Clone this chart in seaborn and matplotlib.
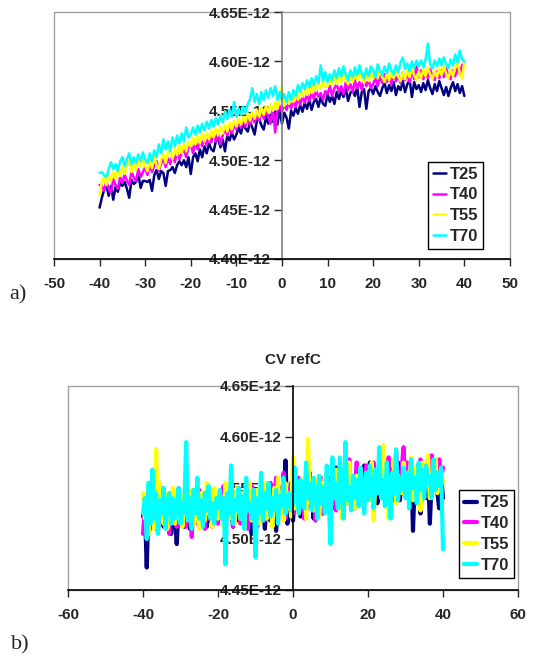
import numpy as np
import pandas as pd
import seaborn as sns
import matplotlib.pyplot as plt
from matplotlib.patches import Rectangle

# x grid of the measurements (V), same for every curve
x_pts = np.arange(-40, 40.5, 0.5)

names = ['T25', 'T40', 'T55', 'T70']
colors = ['#000080', '#FF00FF', '#FFFF00', '#00FFFF']

# axis ticks
a_xticks = [-50, -40, -30, -20, -10, 0, 10, 20, 30, 40, 50]
a_yticks = [4.40, 4.45, 4.50, 4.55, 4.60, 4.65]
b_xticks = [-60, -40, -20, 0, 20, 40, 60]
b_yticks = [4.45, 4.50, 4.55, 4.60, 4.65]

# values, in 1e-15 units
# a) capacitance
a_T25 = [4452, 4462, 4470, 4475, 4464, 4474, 4460, 4473, 4468, 4477, 4474, 4478, 4471, 4462, 4480, 4476, 4478, 4486, 4472, 4479,
         4479, 4478, 4480, 4469, 4485, 4490, 4481, 4489, 4487, 4474, 4489, 4490, 4493, 4487, 4495, 4499, 4495, 4500, 4493, 4503,
         4486, 4503, 4507, 4499, 4511, 4503, 4514, 4507, 4517, 4511, 4509, 4519, 4522, 4513, 4521, 4509, 4525, 4520, 4528, 4521,
         4526, 4533, 4527, 4537, 4532, 4529, 4539, 4533, 4526, 4540, 4542, 4535, 4531, 4544, 4537, 4546, 4539, 4549, 4536, 4551,
         4537, 4548, 4543, 4532, 4550, 4545, 4553, 4547, 4556, 4549, 4558, 4552, 4561, 4551, 4559, 4562, 4554, 4564, 4557, 4555,
         4567, 4559, 4565, 4557, 4569, 4562, 4570, 4564, 4573, 4560, 4568, 4571, 4565, 4574, 4554, 4569, 4572, 4552, 4570, 4573,
         4567, 4575, 4569, 4565, 4573, 4578, 4568, 4576, 4570, 4579, 4566, 4575, 4571, 4580, 4569, 4577, 4581, 4564, 4579, 4572,
         4576, 4569, 4578, 4571, 4581, 4573, 4567, 4577, 4570, 4580, 4573, 4566, 4574, 4565, 4573, 4579, 4570, 4577, 4568, 4575,
         4565]
a_T40 = [4475, 4474, 4469, 4479, 4471, 4467, 4481, 4475, 4471, 4483, 4477, 4486, 4479, 4475, 4489, 4482, 4479, 4491, 4483, 4488,
         4493, 4485, 4496, 4488, 4494, 4499, 4489, 4497, 4501, 4493, 4502, 4496, 4506, 4498, 4509, 4501, 4507, 4511, 4503, 4513,
         4516, 4507, 4519, 4511, 4521, 4514, 4523, 4515, 4525, 4518, 4527, 4519, 4529, 4516, 4525, 4532, 4525, 4534, 4527, 4536,
         4531, 4539, 4533, 4541, 4534, 4543, 4536, 4545, 4538, 4547, 4540, 4549, 4542, 4551, 4544, 4537, 4553, 4528, 4549, 4555,
         4549, 4557, 4551, 4559, 4552, 4561, 4554, 4563, 4556, 4565, 4558, 4567, 4560, 4569, 4562, 4571, 4564, 4568, 4561, 4570,
         4567, 4575, 4565, 4573, 4577, 4569, 4575, 4567, 4579, 4571, 4577, 4569, 4581, 4573, 4579, 4571, 4583, 4575, 4581, 4573,
         4577, 4584, 4575, 4585, 4578, 4587, 4579, 4585, 4577, 4588, 4580, 4586, 4578, 4589, 4581, 4587, 4579, 4590, 4582, 4595,
         4584, 4591, 4582, 4589, 4583, 4592, 4585, 4581, 4590, 4583, 4591, 4584, 4593, 4586, 4582, 4591, 4585, 4593, 4587, 4596,
         4598]
a_T55 = [4465, 4478, 4483, 4475, 4485, 4479, 4488, 4481, 4491, 4484, 4493, 4486, 4495, 4501, 4488, 4497, 4490, 4499, 4493, 4501,
         4494, 4489, 4499, 4492, 4503, 4495, 4491, 4501, 4506, 4497, 4508, 4511, 4501, 4513, 4505, 4515, 4507, 4517, 4509, 4519,
         4514, 4523, 4516, 4525, 4517, 4527, 4519, 4528, 4521, 4530, 4523, 4532, 4525, 4534, 4527, 4536, 4529, 4538, 4531, 4540,
         4534, 4542, 4536, 4544, 4538, 4547, 4540, 4549, 4542, 4551, 4544, 4553, 4546, 4555, 4548, 4557, 4550, 4559, 4552, 4561,
         4575, 4555, 4563, 4557, 4566, 4559, 4568, 4561, 4571, 4564, 4573, 4566, 4575, 4568, 4577, 4570, 4579, 4572, 4581, 4574,
         4575, 4583, 4576, 4585, 4577, 4587, 4579, 4591, 4581, 4577, 4586, 4579, 4588, 4581, 4590, 4583, 4578, 4587, 4580, 4589,
         4582, 4590, 4583, 4591, 4584, 4579, 4588, 4581, 4590, 4583, 4592, 4585, 4580, 4589, 4582, 4591, 4584, 4593, 4586, 4581,
         4590, 4583, 4592, 4585, 4594, 4587, 4582, 4591, 4584, 4593, 4586, 4595, 4588, 4583, 4592, 4585, 4594, 4601, 4587, 4583,
         4600]
a_T70 = [4487, 4488, 4485, 4483, 4491, 4498, 4491, 4496, 4489, 4499, 4503, 4494, 4501, 4507, 4496, 4503, 4497, 4506, 4499, 4508,
         4501, 4497, 4507, 4499, 4510, 4503, 4516, 4507, 4521, 4511, 4519, 4509, 4523, 4514, 4525, 4517, 4527, 4519, 4533, 4523,
         4526, 4533, 4526, 4535, 4528, 4537, 4530, 4539, 4532, 4541, 4534, 4543, 4536, 4545, 4538, 4549, 4542, 4551, 4544, 4559,
         4544, 4552, 4546, 4554, 4548, 4557, 4562, 4573, 4559, 4567, 4557, 4569, 4561, 4571, 4563, 4573, 4565, 4575, 4561, 4569,
         4561, 4567, 4559, 4569, 4561, 4571, 4565, 4576, 4569, 4578, 4572, 4581, 4574, 4583, 4576, 4585, 4578, 4596, 4580, 4589,
         4579, 4587, 4581, 4591, 4583, 4593, 4585, 4595, 4587, 4581, 4591, 4584, 4594, 4586, 4596, 4588, 4583, 4593, 4585, 4595,
         4591, 4584, 4597, 4590, 4586, 4595, 4588, 4598, 4591, 4587, 4596, 4589, 4599, 4604, 4592, 4598, 4590, 4600, 4593, 4601,
         4595, 4601, 4594, 4602, 4618, 4597, 4593, 4601, 4595, 4603, 4596, 4604, 4597, 4593, 4602, 4596, 4607, 4599, 4611, 4602,
         4600]

# b) CV refC
b_T25 = [4522, 4530, 4472, 4540, 4515, 4528, 4545, 4510, 4535, 4520, 4548, 4512, 4530, 4518, 4540, 4505, 4528, 4522, 4495, 4532,
         4520, 4540, 4512, 4535, 4525, 4510, 4542, 4518, 4530, 4550, 4515, 4528, 4520, 4545, 4512, 4535, 4522, 4514, 4540, 4526,
         4518, 4537, 4525, 4545, 4515, 4532, 4522, 4540, 4512, 4535, 4528, 4518, 4542, 4525, 4533, 4512, 4538, 4520, 4505, 4540,
         4528, 4515, 4545, 4522, 4535, 4510, 4540, 4528, 4518, 4548, 4525, 4508, 4538, 4530, 4550, 4520, 4577, 4515, 4540, 4525,
         4518, 4545, 4530, 4555, 4522, 4540, 4548, 4528, 4555, 4535, 4545, 4520, 4550, 4532, 4558, 4540, 4525, 4552, 4538, 4545,
         4560, 4530, 4548, 4570, 4540, 4555, 4528, 4562, 4545, 4535, 4565, 4542, 4553, 4530, 4568, 4545, 4558, 4538, 4572, 4548,
         4540, 4575, 4550, 4545, 4565, 4535, 4558, 4548, 4570, 4540, 4562, 4550, 4532, 4568, 4555, 4545, 4575, 4538, 4560, 4550,
         4565, 4545, 4555, 4570, 4508, 4560, 4548, 4572, 4525, 4558, 4565, 4540, 4570, 4515, 4560, 4550, 4575, 4545, 4530, 4562,
         4540]
b_T40 = [4505, 4530, 4520, 4545, 4510, 4535, 4518, 4540, 4508, 4532, 4550, 4515, 4538, 4522, 4505, 4545, 4525, 4530, 4512, 4550,
         4520, 4535, 4545, 4512, 4528, 4538, 4502, 4540, 4525, 4515, 4548, 4522, 4535, 4510, 4545, 4520, 4530, 4512, 4540, 4526,
         4515, 4540, 4525, 4552, 4518, 4535, 4522, 4545, 4512, 4538, 4528, 4550, 4515, 4535, 4525, 4542, 4510, 4538, 4552, 4520,
         4535, 4512, 4545, 4528, 4550, 4518, 4540, 4525, 4555, 4515, 4538, 4560, 4522, 4545, 4530, 4565, 4520, 4548, 4535, 4555,
         4525, 4550, 4535, 4560, 4528, 4545, 4520, 4555, 4538, 4565, 4530, 4548, 4518, 4558, 4540, 4525, 4560, 4535, 4550, 4545,
         4535, 4562, 4548, 4528, 4565, 4540, 4555, 4532, 4570, 4545, 4578, 4538, 4560, 4548, 4575, 4535, 4565, 4550, 4540, 4572,
         4548, 4565, 4538, 4575, 4555, 4545, 4570, 4540, 4562, 4552, 4545, 4580, 4550, 4560, 4538, 4585, 4555, 4548, 4570, 4590,
         4545, 4575, 4558, 4540, 4570, 4552, 4565, 4535, 4578, 4555, 4548, 4572, 4560, 4540, 4582, 4555, 4565, 4548, 4578, 4560,
         4570]
b_T55 = [4545, 4520, 4538, 4505, 4550, 4525, 4510, 4588, 4520, 4555, 4530, 4515, 4545, 4510, 4540, 4525, 4550, 4515, 4535, 4520,
         4545, 4512, 4538, 4555, 4520, 4530, 4548, 4515, 4540, 4525, 4510, 4545, 4530, 4518, 4555, 4525, 4540, 4512, 4550, 4528,
         4520, 4545, 4530, 4512, 4555, 4535, 4520, 4565, 4528, 4515, 4550, 4535, 4520, 4545, 4510, 4540, 4528, 4555, 4518, 4535,
         4525, 4548, 4515, 4540, 4530, 4555, 4520, 4545, 4535, 4512, 4550, 4528, 4560, 4525, 4545, 4518, 4555, 4530, 4540, 4522,
         4580, 4530, 4552, 4525, 4545, 4535, 4560, 4520, 4598, 4535, 4550, 4528, 4558, 4540, 4522, 4555, 4535, 4562, 4530, 4548,
         4525, 4555, 4540, 4568, 4530, 4550, 4520, 4560, 4545, 4535, 4575, 4540, 4555, 4530, 4562, 4545, 4570, 4538, 4555, 4548,
         4565, 4538, 4575, 4518, 4560, 4545, 4570, 4550, 4592, 4540, 4565, 4520, 4560, 4548, 4578, 4535, 4562, 4550, 4545, 4575,
         4540, 4565, 4555, 4580, 4538, 4570, 4545, 4560, 4528, 4575, 4550, 4565, 4582, 4540, 4562, 4555, 4578, 4545, 4560, 4568,
         4555]
b_T70 = [4525, 4540, 4500, 4555, 4515, 4568, 4520, 4545, 4505, 4538, 4525, 4550, 4510, 4535, 4545, 4515, 4540, 4520, 4530, 4550,
         4515, 4535, 4525, 4595, 4518, 4540, 4510, 4548, 4525, 4560, 4520, 4538, 4512, 4545, 4528, 4552, 4520, 4535, 4515, 4540,
         4530, 4548, 4520, 4540, 4475, 4545, 4525, 4572, 4515, 4538, 4528, 4550, 4520, 4542, 4510, 4560, 4528, 4535, 4520, 4548,
         4482, 4540, 4525, 4565, 4518, 4545, 4530, 4555, 4522, 4540, 4528, 4548, 4515, 4542, 4532, 4560, 4525, 4538, 4545, 4528,
         4535, 4570, 4548, 4525, 4558, 4540, 4530, 4575, 4540, 4555, 4528, 4560, 4545, 4520, 4562, 4535, 4550, 4525, 4572, 4540,
         4495, 4580, 4540, 4555, 4530, 4580, 4545, 4520, 4595, 4538, 4550, 4528, 4562, 4540, 4558, 4532, 4570, 4545, 4525, 4565,
         4538, 4572, 4548, 4530, 4568, 4545, 4590, 4540, 4558, 4532, 4575, 4550, 4520, 4565, 4545, 4588, 4538, 4560, 4548, 4570,
         4540, 4565, 4530, 4578, 4550, 4560, 4535, 4575, 4548, 4568, 4540, 4572, 4555, 4562, 4540, 4578, 4548, 4565, 4552, 4570,
         4490]


def long_df(series):
    parts = []
    for nm, vals in zip(names, series):
        parts.append(pd.DataFrame({'x': x_pts, 'C': np.array(vals) * 1e-15, 'T': nm}))
    return pd.concat(parts, ignore_index=True)


dfa = long_df([a_T25, a_T40, a_T55, a_T70])
dfb = long_df([b_T25, b_T40, b_T55, b_T70])

sns.set_style('white')
plt.rcParams['font.family'] = ['Liberation Sans', 'DejaVu Sans']
plt.rcParams['axes.unicode_minus'] = False

fig = plt.figure(figsize=(5.35, 6.57), dpi=100)
ax1 = fig.add_axes([0.1009, 0.6058, 0.8523, 0.3759])
ax2 = fig.add_axes([0.1271, 0.1020, 0.8411, 0.3105])


def style_ax(ax, xticks, yticks, yaxcol, lw, bbox):
    # spine position first: moving a spine resets the tick labels
    for s in ['top', 'right']:
        ax.spines[s].set_visible(False)
    ax.spines['left'].set_position(('data', 0))
    ax.spines['left'].set_color(yaxcol)
    ax.spines['left'].set_linewidth(1.2)
    ax.spines['bottom'].set_color('black')
    ax.spines['bottom'].set_linewidth(1.2)
    ax.set_xticks(xticks, ['%d' % v for v in xticks], fontweight='bold', fontsize=11)
    ax.set_yticks([v * 1e-12 for v in yticks], ['%.2fE-12' % v for v in yticks],
                  fontweight='bold', fontsize=11)
    ax.set_xlim(xticks[0], xticks[-1])
    ax.set_ylim(yticks[0] * 1e-12, yticks[-1] * 1e-12)
    ax.add_patch(Rectangle((0, 0), 1, 1, transform=ax.transAxes, fill=False,
                           edgecolor='#a0a0a0', lw=1.0, zorder=0, clip_on=False))
    ax.tick_params(axis='y', direction='out', length=6, width=1, pad=2, left=True)
    ax.tick_params(axis='x', direction='out', length=5, width=1, pad=8, bottom=True)
    ax.set_xlabel('')
    ax.set_ylabel('')
    leg = ax.legend(loc='lower left', bbox_to_anchor=bbox, frameon=True,
                    fancybox=False, framealpha=1, edgecolor='black',
                    prop={'size': 12, 'weight': 'bold'}, handlelength=0.8,
                    handletextpad=0.2, borderpad=0.3, labelspacing=0.35,
                    borderaxespad=0)
    leg.get_frame().set_linewidth(1.0)
    for h in leg.get_lines():
        h.set_linewidth(lw)


sns.lineplot(data=dfa, x='x', y='C', hue='T', palette=colors, linewidth=1.8,
             estimator=None, sort=False, ax=ax1)
style_ax(ax1, a_xticks, a_yticks, '#808080', 1.8, (0.82, 0.04))

sns.lineplot(data=dfb, x='x', y='C', hue='T', palette=colors, linewidth=3.0,
             estimator=None, sort=False, ax=ax2)
style_ax(ax2, b_xticks, b_yticks, 'black', 3.0, (0.869, 0.059))
ax2.set_title('CV refC', fontsize=11, fontweight='bold', pad=16)

fig.text(0.017, 0.551, 'a)', family=['Liberation Serif'], fontsize=16,
         va='center', ha='left')
fig.text(0.021, 0.019, 'b)', family=['Liberation Serif'], fontsize=16,
         va='center', ha='left')

fig.savefig('out.png', dpi=100)
